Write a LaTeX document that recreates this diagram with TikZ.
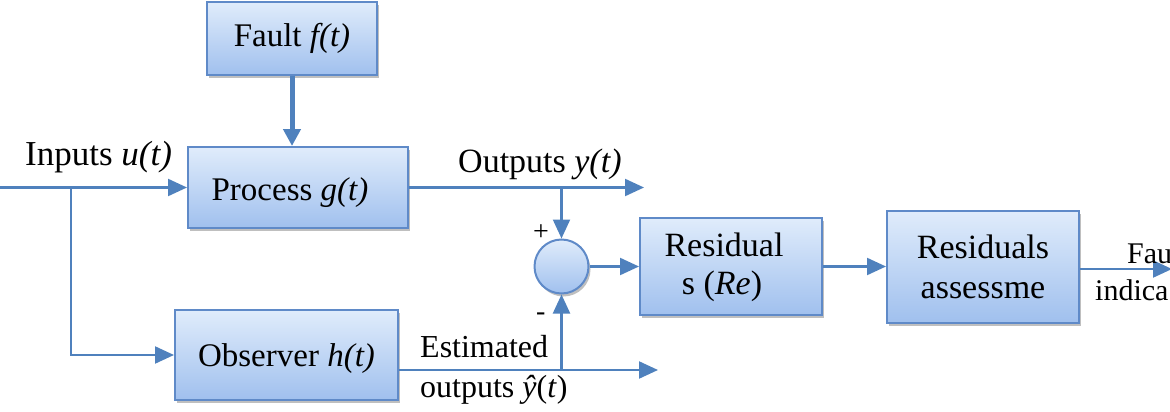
\documentclass[tikz,border=0pt]{standalone}
\usepackage{fontspec}
\setmainfont{Liberation Serif}
\usetikzlibrary{arrows.meta,shadows}
\definecolor{lineblue}{RGB}{79,129,189}
\definecolor{boxtop}{RGB}{224,236,251}
\definecolor{boxbot}{RGB}{160,192,238}
\definecolor{boxborder}{RGB}{95,138,200}
\tikzset{
  blk/.style={draw=boxborder, line width=2pt, top color=boxtop, bottom color=boxbot,
    inner sep=0pt, align=center, font=\fontsize{33}{38}\selectfont,
    drop shadow={shadow xshift=2pt, shadow yshift=-3pt, opacity=0.25, fill=black}},
  sumc/.style={circle, draw=boxborder, line width=2pt, top color=boxtop, bottom color=boxbot,
    minimum size=54pt, inner sep=0pt,
    drop shadow={shadow xshift=2pt, shadow yshift=-3pt, opacity=0.25, fill=black}},
  arr/.style={draw=lineblue, line width=2.2pt, -{Triangle[length=19pt,width=17pt]}},
  thickarr/.style={draw=lineblue, line width=5pt, -{Triangle[length=17pt,width=17pt]}},
  lbl/.style={inner sep=0pt, anchor=base west, font=\fontsize{33}{38}\selectfont},
}
\begin{document}
\begin{tikzpicture}[x=1pt,y=-1pt]
\useasboundingbox (0,0) rectangle (1170,412);
\clip (0,0) rectangle (1170,412);
% blocks
\node[blk, minimum width=170pt, minimum height=73pt] (fault) at (292,38.5) {Fault \textit{f(t)}};
\node[blk, minimum width=220pt, minimum height=81pt] (proc) at (298,187.5) {\rule{0pt}{33pt}Process \textit{g(t)}\hspace*{16pt}};
\node[blk, minimum width=223pt, minimum height=90pt] (obs) at (286.5,355) {\rule{0pt}{30pt}Observer \textit{h(t)}};
\node[sumc] (sum) at (561.5,266.5) {};
\node[blk, minimum width=182pt, minimum height=97pt, font=\fontsize{34}{38}\selectfont] (res) at (731,266.5) {\rule{0pt}{26pt}Residual\hspace*{14pt}\\s (\textit{Re})\hspace*{18pt}};
\node[blk, minimum width=192pt, minimum height=112pt, font=\fontsize{34}{40}\selectfont] (ass) at (983,266.5) {Residuals\\assessme};
% coordinates
\coordinate (in) at (0,187.5);
\coordinate (br) at (71,187.5);
\coordinate (yout) at (644,187.5);
\coordinate (ytap) at (561.5,187.5);
\coordinate (yh) at (658,370);
\coordinate (yhtap) at (561.5,370);
\coordinate (fout) at (1172,269);
% connectors
\draw[arr] (in) -- (proc.west);
\draw[arr] (br) |- (obs.west);
\draw[thickarr] (fault.south) -- (fault.south |- proc.north);
\draw[arr] (proc.east) -- (yout);
\draw[arr] (ytap) -- (sum.north);
\draw[arr] (obs.east |- yh) -- (yh);
\draw[arr] (yhtap) -- (sum.south);
\draw[arr] (sum.east) -- (res.west);
\draw[arr] (res.east) -- (ass.west);
\draw[arr] (ass.east |- fout) -- (fout);
% labels
\node[lbl, font=\fontsize{35}{40}\selectfont] (linp) at (25,165) {Inputs \textit{u(t)}};
\node[lbl, font=\fontsize{34}{40}\selectfont] (lout) at (458,172) {Outputs \textit{y(t)}};
\node[lbl, font=\fontsize{28}{30}\selectfont] (lplus) at (533,240) {+};
\node[lbl, font=\fontsize{28}{30}\selectfont] (lminus) at (536,320) {-};
\node[lbl, font=\fontsize{32}{38}\selectfont] (lest1) at (420,357) {Estimated};
\node[lbl, font=\fontsize{32}{38}\selectfont] (lest2) at (420,397) {outputs \textit{ŷ}(\textit{t})};
\node[lbl, font=\fontsize{30}{36}\selectfont] (lf1) at (1127,263) {Fau};
\node[lbl, font=\fontsize{30}{36}\selectfont] (lf2) at (1095,300) {indica};
\end{tikzpicture}
\end{document}
